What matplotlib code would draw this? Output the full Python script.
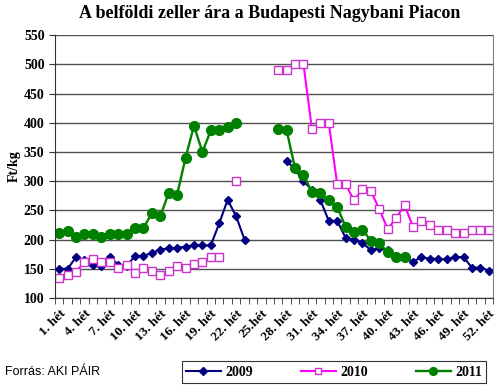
import numpy as np
import matplotlib.pyplot as plt

nan = np.nan

weeks = list(range(1, 53))
tick_weeks = list(range(1, 53, 3))
tick_labels = [f"{w}. hét" if w != 25 else "25.hét" for w in tick_weeks]

# 2009
price_2009 = [150, 150, 170, 165, 157, 155, 170, 157, 155, 172,
              172, 177, 183, 185, 186, 188, 190, 190, 190, 228,
              268, 240, 200, nan, nan, nan, nan, 335, 320, 300,
              285, 268, 232, 232, 203, 200, 194, 182, 185, 182,
              171, 170, 162, 170, 167, 167, 166, 170, 170, 152,
              152, 147]
# 2010
price_2010 = [135, 140, 145, 162, 167, 162, 162, 152, 156, 143,
              152, 147, 140, 147, 155, 152, 159, 162, 170, 170,
              nan, 300, nan, nan, nan, nan, 490, 490, 500, 500,
              390, 400, 400, 295, 295, 267, 287, 283, 252, 218,
              237, 259, 222, 231, 225, 217, 217, 212, 212, 217,
              217, 217]
# 2011
price_2011 = [212, 215, 205, 210, 210, 205, 210, 210, 210, 220,
              220, 245, 240, 280, 277, 340, 395, 350, 387, 387,
              392, 400, nan, nan, nan, nan, 390, 387, 322, 310,
              282, 279, 267, 256, 222, 213, 217, 198, 194, 178,
              171, 171, nan, nan, nan, nan, nan, nan, nan, nan,
              nan, nan]

serif = "Liberation Serif"

fig = plt.figure(figsize=(5, 3.86), dpi=100)
ax = fig.add_axes([0.11, 0.228, 0.876, 0.681])

ax.plot(weeks, price_2009, color="#000080", lw=1.5, marker="D", ms=4.5,
        markerfacecolor="#000080", markeredgecolor="#000080", label="2009")
ax.plot(weeks, price_2010, color="#FF00FF", lw=1.5, marker="s", ms=6,
        markerfacecolor="white", markeredgecolor="#CC33CC", markeredgewidth=1,
        label="2010")
ax.plot(weeks, price_2011, color="#008000", lw=1.7, marker="o", ms=7,
        markerfacecolor="#008000", markeredgecolor="#008000", label="2011")

ax.set_xlim(0.5, 52.5)
ax.set_ylim(100, 550)
ax.set_yticks(range(100, 551, 50))
ax.yaxis.grid(True, color="#505050", lw=1)
ax.set_axisbelow(True)

ax.set_xticks(tick_weeks)
ax.set_xticklabels(tick_labels, rotation=45, ha="right", rotation_mode="anchor",
                   fontsize=9.5, fontweight="bold", family=serif)
ax.set_xticks(np.arange(0.5, 53, 1), minor=True)
ax.tick_params(axis="x", which="major", length=0, pad=7)
ax.tick_params(axis="x", which="minor", length=4, direction="out", color="#333333")
ax.tick_params(axis="y", length=4, direction="out", color="#333333")
for lab in ax.get_yticklabels():
    lab.set_fontweight("bold")
    lab.set_family(serif)
    lab.set_fontsize(10)

ax.spines["top"].set_visible(False)
ax.spines["right"].set_color("#808080")
ax.spines["left"].set_color("#333333")
ax.spines["bottom"].set_color("#333333")

ax.set_ylabel("Ft/kg", fontsize=10, fontweight="bold", family=serif, labelpad=2)

fig.text(0.54, 0.965, "A belföldi zeller ára a Budapesti Nagybani Piacon",
         ha="center", va="center", fontsize=13, fontweight="bold", family=serif)

fig.text(0.01, 0.036, "Forrás: AKI PÁIR", ha="left", va="center",
         fontsize=9, family="Liberation Sans")

leg = fig.legend(loc="center", bbox_to_anchor=(0.35, 0.008, 0.636, 0.056),
                 mode="expand", ncol=3,
                 frameon=True, fancybox=False, edgecolor="black",
                 prop={"family": serif, "weight": "bold", "size": 10},
                 handlelength=2.5, columnspacing=1.6, borderpad=0.3,
                 handletextpad=0.3, markerscale=0.8)
leg.get_frame().set_linewidth(0.8)

fig.savefig("out.png", dpi=100)
